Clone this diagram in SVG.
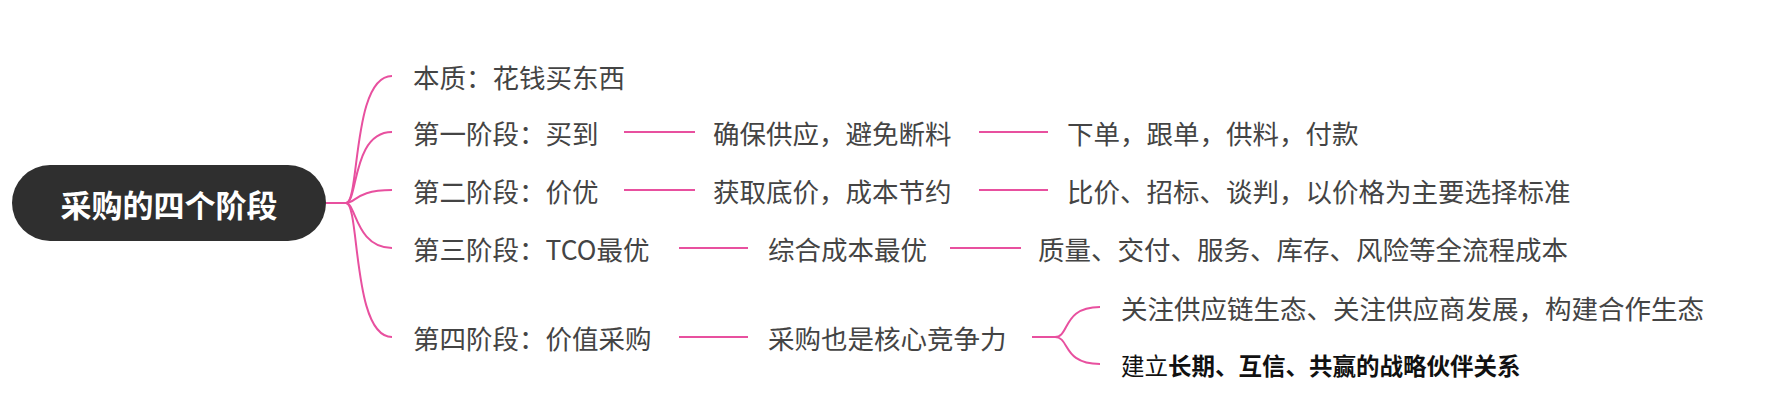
<svg xmlns="http://www.w3.org/2000/svg" width="1774" height="420" viewBox="0 0 1774 420">
<style>
.t{font-family:"Noto Sans CJK SC","Liberation Sans",sans-serif;font-size:26.5px;fill:#444;dominant-baseline:central}
.c{fill:none;stroke:#e8509f;stroke-width:2}
</style>
<rect width="1774" height="420" fill="#fff"/>
<g id="connectors">
<path class="c" d="M326,203 H346"/>
<path class="c" d="M346,203 C360,203 352,76 392,76"/>
<path class="c" d="M346,203 C358,203 352,132 392,132"/>
<path class="c" d="M346,203 C356,203 356,190 392,190"/>
<path class="c" d="M346,203 C356,203 356,248 392,248"/>
<path class="c" d="M346,203 C360,203 352,337 392,337"/>
<path class="c" d="M624,132 H695 M979,132 H1048"/>
<path class="c" d="M624,190 H695 M979,190 H1048"/>
<path class="c" d="M679,248 H748 M950,248 H1021"/>
<path class="c" d="M679,337 H748"/>
<path class="c" d="M1032,337 H1055 C1070,337 1062,307 1100,307 M1055,337 C1070,337 1062,364 1100,364"/>
</g>
<g id="root"><rect x="12" y="165" width="314" height="76" rx="38" fill="#2f2f2f"/>
<text x="169" y="203" text-anchor="middle" style="font-family:'Noto Sans CJK SC',sans-serif;font-size:31px;font-weight:bold;fill:#fff;dominant-baseline:central">采购的四个阶段</text></g>
<g id="n0"><text class="t" x="413" y="76">本质：花钱买东西</text></g>
<g id="n1"><text class="t" x="413" y="132">第一阶段：买到</text></g>
<g id="n1a"><text class="t" x="713" y="132">确保供应，避免断料</text></g>
<g id="n1b"><text class="t" x="1067" y="132">下单，跟单，供料，付款</text></g>
<g id="n2"><text class="t" x="413" y="190">第二阶段：价优</text></g>
<g id="n2a"><text class="t" x="713" y="190">获取底价，成本节约</text></g>
<g id="n2b"><text class="t" x="1067" y="190">比价、招标、谈判，以价格为主要选择标准</text></g>
<g id="n3"><text class="t" x="413" y="248">第三阶段：TCO最优</text></g>
<g id="n3a"><text class="t" x="768" y="248">综合成本最优</text></g>
<g id="n3b"><text class="t" x="1038" y="248">质量、交付、服务、库存、风险等全流程成本</text></g>
<g id="n4"><text class="t" x="413" y="337">第四阶段：价值采购</text></g>
<g id="n4a"><text class="t" x="768" y="337">采购也是核心竞争力</text></g>
<g id="n4b"><text class="t" x="1121" y="307">关注供应链生态、关注供应商发展，构建合作生态</text></g>
<g id="n4c"><text class="t" x="1121" y="365" style="font-size:23.5px;fill:#111">建立<tspan font-weight="bold">长期、互信、共赢的战略伙伴关系</tspan></text></g>
</svg>
